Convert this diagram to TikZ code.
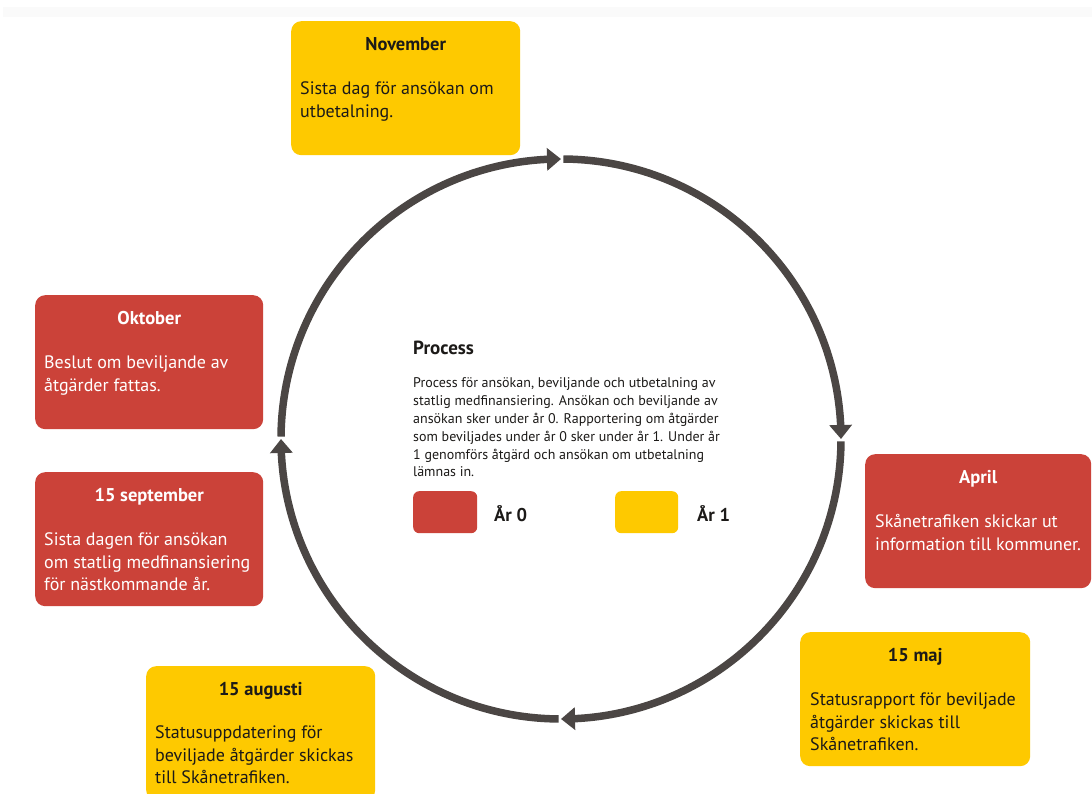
\documentclass[tikz,border=0pt]{standalone}
\usepackage{fontspec}
\setmainfont{PT Sans}
\usetikzlibrary{arrows.meta,bending}

\definecolor{procred}{HTML}{CB4239}
\definecolor{procyellow}{HTML}{FEC900}
\definecolor{arcgray}{HTML}{4B4644}
\definecolor{inktext}{HTML}{1C1A18}
\definecolor{stripgray}{HTML}{FAFAFA}

\tikzset{
  stage/.style={rounded corners=10pt, minimum width=229pt, minimum height=134pt,
    anchor=north west, inner sep=0pt},
  redstage/.style={stage, fill=procred},
  ylwstage/.style={stage, fill=procyellow},
  stagetitle/.style={anchor=base, inner sep=0pt, font=\bfseries\fontsize{18.5}{21}\selectfont},
  stagebody/.style={anchor=base west, inner sep=0pt, font=\fontsize{18}{22.3}\selectfont},
  onred/.style={text=white},
  onylw/.style={text=inktext},
  cyclearc/.style={draw=arcgray, line width=7.5pt,
    -{Triangle[width=22pt,length=14pt,flex]}},
  legendkey/.style={rounded corners=6pt, minimum width=64pt, minimum height=42pt,
    anchor=north west, inner sep=0pt},
  legendlabel/.style={anchor=base west, inner sep=0pt, text=inktext,
    font=\bfseries\fontsize{18.5}{20}\selectfont},
}

\newcommand{\stagelines}[1]{\parbox[t]{222pt}{\raggedright #1}}

\begin{document}
\begin{tikzpicture}[x=1pt, y=1pt]
  \clip (0,0) rectangle (1092,794);
  \fill[white] (0,0) rectangle (1092,794);
  \fill[stripgray] (3,787) rectangle (1092,777);

  % the yearly cycle
  \coordinate (c) at (561,355);
  \draw[cyclearc] ([shift={(179.5:280)}]c) arc[start angle=179.5, end angle=90, radius=280];
  \draw[cyclearc] ([shift={(89.5:280)}]c) arc[start angle=89.5, end angle=0, radius=280];
  \draw[cyclearc] ([shift={(-0.5:280)}]c) arc[start angle=-0.5, end angle=-90, radius=280];
  \draw[cyclearc] ([shift={(-90.5:280)}]c) arc[start angle=-90.5, end angle=-180, radius=280];

  % November
  \node[ylwstage] (nov) at (291,773) {};
  \node[stagetitle, onylw] (novT) at ([yshift=-30pt]nov.north) {November};
  \node[stagebody, onylw] (novB) at ([xshift=9pt, yshift=-74pt]nov.north west)
    {\stagelines{Sista dag för ansökan om\\utbetalning.}};

  % Oktober
  \node[redstage, minimum width=228pt] (okt) at (35,499) {};
  \node[stagetitle, onred] (oktT) at ([yshift=-30pt]okt.north) {Oktober};
  \node[stagebody, onred] (oktB) at ([xshift=9pt, yshift=-74pt]okt.north west)
    {\stagelines{Beslut om beviljande av\\åtgärder fattas.}};

  % 15 september
  \node[redstage, minimum width=228pt] (sep) at (35,322) {};
  \node[stagetitle, onred] (sepT) at ([yshift=-30pt]sep.north) {15 september};
  \node[stagebody, onred] (sepB) at ([xshift=9pt, yshift=-74pt]sep.north west)
    {\stagelines{Sista dagen för ansökan\\om statlig medfinansiering\\för nästkommande år.}};

  % April
  \node[redstage, minimum width=226pt] (apr) at (865,340) {};
  \node[stagetitle, onred] (aprT) at ([yshift=-30pt]apr.north) {April};
  \node[stagebody, onred] (aprB) at ([xshift=10pt, yshift=-74pt]apr.north west)
    {\stagelines{Skånetrafiken skickar ut\\information till kommuner.}};

  % 15 maj
  \node[ylwstage, minimum width=230pt] (maj) at (800,162) {};
  \node[stagetitle, onylw] (majT) at ([yshift=-30pt]maj.north) {15 maj};
  \node[stagebody, onylw] (majB) at ([xshift=10pt, yshift=-74pt]maj.north west)
    {\stagelines{Statusrapport för beviljade\\åtgärder skickas till\\Skånetrafiken.}};

  % 15 augusti
  \node[ylwstage] (aug) at (146,128) {};
  \node[stagetitle, onylw] (augT) at ([yshift=-30pt]aug.north) {15 augusti};
  \node[stagebody, onylw] (augB) at ([xshift=9pt, yshift=-73pt]aug.north west)
    {\stagelines{Statusuppdatering för\\beviljade åtgärder skickas\\till Skånetrafiken.}};

  % centre description
  \node[anchor=base west, inner sep=0pt, text=inktext,
        font=\bfseries\fontsize{19}{22}\selectfont] (procT) at (413,439) {Process};
  \node[anchor=base west, inner sep=0pt, text=inktext,
        font=\fontsize{14}{17.8}\selectfont] (procB) at (413,406)
    {\parbox[t]{340pt}{\raggedright Process för ansökan, beviljande och utbetalning av\\
      statlig medfinansiering. Ansökan och beviljande av\\
      ansökan sker under år 0. Rapportering om åtgärder\\
      som beviljades under år 0 sker under år 1. Under år\\
      1 genomförs åtgärd och ansökan om utbetalning\\
      lämnas in.}};

  % legend
  \node[legendkey, fill=procred] (key0) at (413,303) {};
  \node[legendlabel] (lab0) at (494,272) {År 0};
  \node[legendkey, fill=procyellow, minimum width=63pt] (key1) at (615,303) {};
  \node[legendlabel] (lab1) at (697,272) {År 1};
\end{tikzpicture}
\end{document}
